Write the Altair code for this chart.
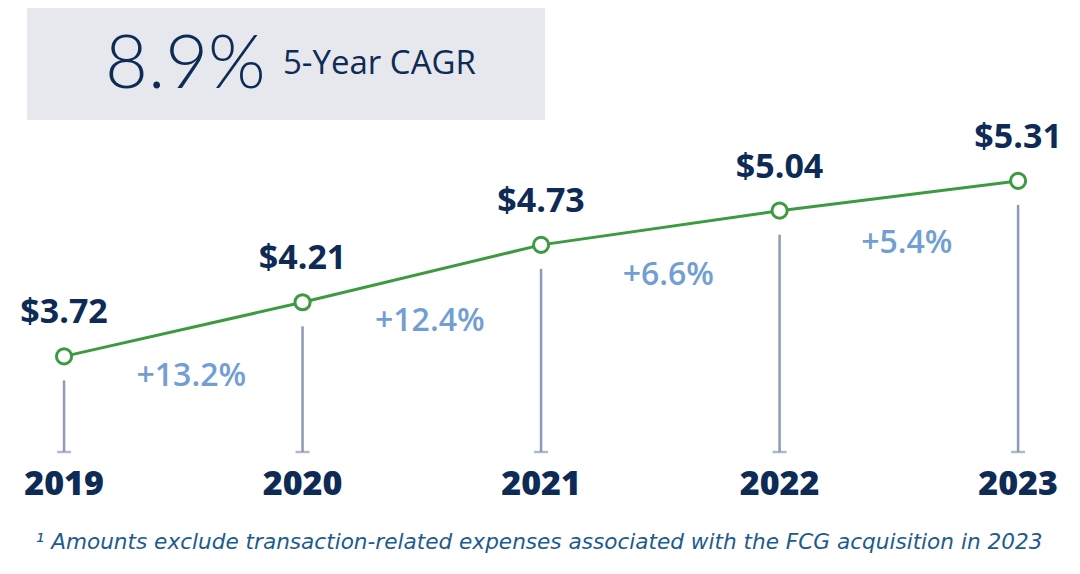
import altair as alt
import pandas as pd

years = [2019, 2020, 2021, 2022, 2023]
eps = [3.72, 4.21, 4.73, 5.04, 5.31]
value_labels = ["$3.72", "$4.21", "$4.73", "$5.04", "$5.31"]
growth_labels = ["+13.2%", "+12.4%", "+6.6%", "+5.4%"]
cagr_value = "8.9%"
cagr_label = "5-Year CAGR"
footnote = "¹ Amounts exclude transaction-related expenses associated with the FCG acquisition in 2023"

NAVY = "#0e2b56"
GREEN = "#3d9a41"
LIGHT = "#729fd3"
DROP = "#8e9ab6"

df = pd.DataFrame({"year": years, "eps": eps, "label": value_labels, "ylab": [str(y) for y in years]})
df_g = pd.DataFrame({
    "mid": [(years[i] + years[i + 1]) / 2 for i in range(len(growth_labels))],
    "val": [(eps[i] + eps[i + 1]) / 2 for i in range(len(growth_labels))],
    "g": growth_labels,
})
one = pd.DataFrame({"a": [0]})

xs = alt.Scale(domain=[2018.765, 2023.226])
ys = alt.Scale(domain=[1.821, 6.876])
X = alt.X("year:Q", scale=xs, axis=None)
Y = alt.Y("eps:Q", scale=ys, axis=None)

box = alt.Chart(one).mark_rect(color="#e6e8ee").encode(
    x=alt.value(19), x2=alt.value(537), y=alt.value(0), y2=alt.value(112))
big = alt.Chart(one).mark_text(text=cagr_value, font="Lato", fontWeight=300, fontSize=74,
                               color=NAVY, align="left", baseline="alphabetic").encode(
    x=alt.value(97), y=alt.value(80))
small = alt.Chart(one).mark_text(text=cagr_label, font="Open Sans", fontWeight=400, fontSize=33,
                                 color=NAVY, align="left", baseline="alphabetic").encode(
    x=alt.value(275), y=alt.value(66))

drops = alt.Chart(df).transform_calculate(top="datum.eps - 0.2174").mark_rule(
    color=DROP, strokeWidth=2.5).encode(
    x=X, y=alt.Y("top:Q", scale=ys, axis=None), y2=alt.value(444))
caps = alt.Chart(df).mark_tick(color=DROP, orient="horizontal", size=14, thickness=2.5).encode(
    x=X, y=alt.value(444))
line = alt.Chart(df).mark_line(color=GREEN, strokeWidth=3).encode(x=X, y=Y)
pts = alt.Chart(df).mark_point(shape="circle", size=230, filled=True, fill="white",
                               stroke=GREEN, strokeWidth=3, opacity=1).encode(x=X, y=Y)
vlab = alt.Chart(df).mark_text(font="Open Sans", fontWeight="bold", fontSize=34, color=NAVY,
                               baseline="middle", dy=-43).encode(x=X, y=Y, text="label:N")
ylab = alt.Chart(df).mark_text(font="Open Sans", fontWeight=800, fontSize=34, color=NAVY,
                               baseline="middle").encode(x=X, y=alt.value(477), text="ylab:N")
glab = alt.Chart(df_g).mark_text(font="Open Sans", fontWeight=600, fontSize=32, color=LIGHT,
                                 baseline="middle", dx=8, dy=47).encode(
    x=alt.X("mid:Q", scale=xs, axis=None), y=alt.Y("val:Q", scale=ys, axis=None), text="g:N")
foot = alt.Chart(one).mark_text(text=footnote, font="DejaVu Sans", fontStyle="italic", fontSize=21.6,
                                color="#1d5b8e", baseline="middle").encode(
    x=alt.value(531), y=alt.value(535))

chart = alt.layer(box, big, small, drops, caps, line, pts, vlab, ylab, glab, foot).properties(
    width=1064, height=558, padding=0, autosize=alt.AutoSizeParams(type="none"),
    background="white"
).configure_view(stroke=None)

chart.save("out.html", embed_options={"renderer": "svg", "actions": False})
